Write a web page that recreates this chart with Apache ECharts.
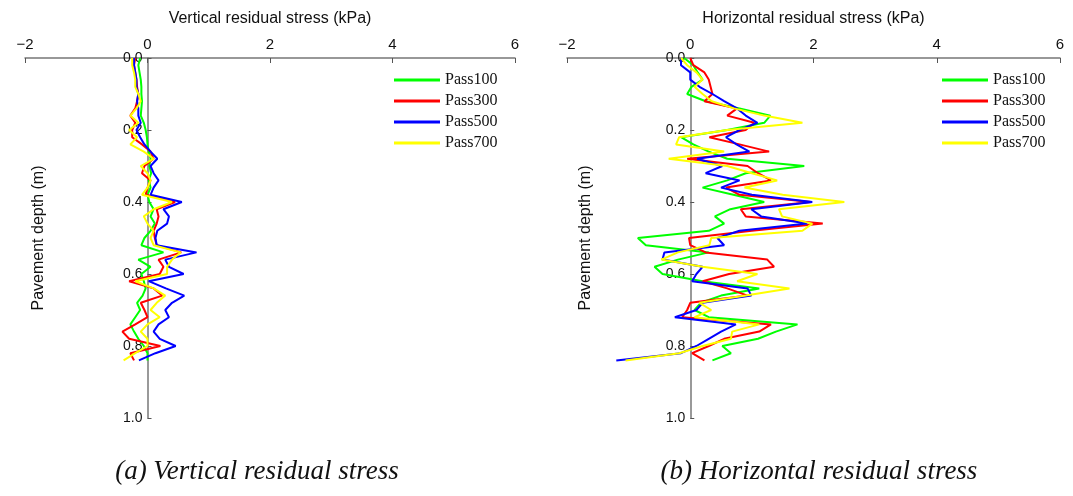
<!DOCTYPE html>
<html>
<head>
<meta charset="utf-8">
<script src="https://cdn.jsdelivr.net/npm/echarts@6/dist/echarts.min.js"></script>
<style>
  html, body { margin: 0; padding: 0; background: #fff; }
  #main { width: 1073px; height: 496px; }
</style>
</head>
<body>
<div id="main"></div>
<script>
// depth of each reading (m)
const depths = [0.00, 0.02, 0.04, 0.06, 0.08, 0.10, 0.12, 0.14, 0.16, 0.18, 0.20,
  0.22, 0.24, 0.26, 0.28, 0.30, 0.32, 0.34, 0.36, 0.38, 0.40,
  0.42, 0.44, 0.46, 0.48, 0.50, 0.52, 0.54, 0.56, 0.58, 0.60,
  0.62, 0.64, 0.66, 0.68, 0.70, 0.72, 0.74, 0.76, 0.78, 0.80, 0.82, 0.84];

const passNames = ['Pass100', 'Pass300', 'Pass500', 'Pass700'];
const passColors = ['#00ff00', '#ff0000', '#0000ff', '#ffff00'];

// vertical residual stress (kPa)
const vPass100 = [-0.12, -0.15, -0.13, -0.11, -0.1, -0.1, -0.09, -0.1, -0.11, -0.06, -0.03,
  -0.01, 0.0, 0.02, 0.05, 0.03, 0.06, 0.02, 0.05, 0.0, 0.03,
  0.1, 0.05, 0.12, 0.05, -0.05, -0.1, 0.26, -0.15, 0.05, -0.1,
  -0.06, -0.03, -0.08, -0.17, -0.12, -0.2, -0.28, -0.22, -0.15, -0.06, 0.0, 0.0];
const vPass300 = [-0.2, -0.22, -0.2, -0.18, -0.17, -0.15, -0.17, -0.2, -0.28, -0.2, -0.25,
  -0.25, -0.09, 0.05, 0.1, -0.05, -0.09, 0.05, 0.0, -0.03, 0.45,
  0.15, 0.18, 0.15, 0.1, 0.12, 0.15, 0.55, 0.18, 0.26, 0.2,
  -0.3, 0.1, 0.24, -0.11, -0.05, 0.0, -0.2, -0.41, -0.3, 0.21, -0.28, -0.22];
const vPass500 = [-0.22, -0.22, -0.2, -0.18, -0.18, -0.15, -0.17, -0.15, -0.15, -0.11, -0.18,
  -0.12, -0.05, 0.05, 0.16, 0.05, 0.1, 0.18, 0.1, 0.05, 0.56,
  0.26, 0.35, 0.32, 0.16, 0.13, 0.15, 0.8, 0.29, 0.35, 0.59,
  0.02, 0.3, 0.6, 0.4, 0.29, 0.35, 0.18, 0.1, 0.2, 0.46, 0.13, -0.14];
const vPass700 = [-0.25, -0.25, -0.22, -0.2, -0.2, -0.15, -0.11, -0.18, -0.28, -0.15, -0.3,
  -0.17, -0.28, -0.06, 0.1, -0.11, 0.0, 0.05, 0.0, -0.09, 0.4,
  0.1, -0.06, 0.0, 0.1, 0.05, 0.1, 0.54, 0.4, 0.32, 0.32,
  -0.2, 0.1, 0.29, 0.15, 0.05, 0.2, 0.0, -0.11, 0.0, 0.0, -0.2, -0.39];

// horizontal residual stress (kPa)
const hPass100 = [-0.1, 0.05, 0.12, 0.2, 0.02, -0.05, 0.25, 0.8, 1.3, 1.2, 0.6,
  -0.15, 0.05, 0.3, 0.6, 1.85, 0.9, 0.6, 0.2, 0.7, 1.2,
  0.65, 0.4, 0.55, 0.3, -0.85, -0.72, 0.3, -0.2, -0.58, -0.45,
  0.2, 1.12, 0.5, 0.17, 0.07, 0.3, 1.74, 1.39, 1.1, 0.52, 0.66, 0.36];
const hPass300 = [0.0, 0.05, 0.23, 0.3, 0.33, 0.36, 0.23, 0.76, 0.6, 1.04, 0.9,
  0.31, 0.8, 1.28, -0.05, 0.93, 1.1, 1.31, 0.58, 0.8, 1.96,
  0.82, 0.9, 2.15, 1.0, -0.02, 0.0, 0.25, 1.25, 1.36, 0.63,
  0.2, 0.6, 0.93, 0.0, -0.05, -0.13, 1.31, 1.12, 0.55, 0.3, 0.03, 0.23];
const hPass500 = [-0.15, -0.15, 0.0, 0.0, 0.15, 0.36, 0.55, 0.76, 0.9, 1.09, 0.8,
  0.58, 0.75, 0.96, 0.11, 0.52, 0.25, 0.8, 0.5, 1.0, 1.98,
  0.99, 1.15, 1.9, 0.8, 0.44, 0.55, -0.42, -0.45, 0.2, 0.1,
  0.03, 0.93, 0.99, 0.2, 0.1, -0.25, 0.74, 0.5, 0.3, 0.1, -0.15, -1.2];
const hPass700 = [-0.15, -0.05, 0.1, 0.2, 0.07, 0.2, 0.35, 0.71, 1.2, 1.82, 0.6,
  -0.18, -0.23, 0.55, -0.35, 0.6, 1.0, 1.41, 0.88, 1.5, 2.5,
  1.44, 1.49, 1.98, 1.82, 0.34, 0.31, -0.2, -0.47, 0.2, 1.09,
  0.76, 1.61, 0.9, 0.15, 0.34, 0.07, 1.12, 0.68, 0.66, 0.2, -0.18, -1.05];

const xTicks = { min: -2, max: 6, interval: 2 };
const yTicks = { min: 0, max: 1, interval: 0.2 };

const sansFont = 'Liberation Sans, Arial, sans-serif';
const serifFont = 'Liberation Serif, Times New Roman, serif';

function pairs(vals) {
  return vals.map((v, i) => [v, depths[i]]);
}

// main grids hold the data; the "axis" grids start at x = 0 so the
// depth axis, its labels and its name sit on the zero line
const plotBoxes = [
  { left: 25, width: 490 },
  { left: 567, width: 493 },
];
function zeroLeft(b) {
  return b.left + b.width * (0 - xTicks.min) / (xTicks.max - xTicks.min);
}

function xAxisOf(idx, name) {
  return {
    gridIndex: idx,
    type: 'value',
    position: 'top',
    min: xTicks.min,
    max: xTicks.max,
    interval: xTicks.interval,
    name: name,
    nameLocation: 'middle',
    nameGap: 31,
    nameTextStyle: { fontFamily: sansFont, fontSize: 16, color: '#111' },
    axisLine: { onZero: false, lineStyle: { color: '#777', width: 1.5 } },
    axisTick: { inside: true, length: 5, lineStyle: { color: '#555' } },
    axisLabel: {
      fontFamily: sansFont, fontSize: 15, color: '#111', margin: 6,
      formatter: v => (v < 0 ? '\u2212' + Math.abs(v) : String(v)),
    },
    splitLine: { show: false },
  };
}

function hiddenXAxis(idx) {
  return {
    gridIndex: idx, type: 'value', min: 0, max: 1, show: false,
  };
}

function dataYAxis(idx) {
  return {
    gridIndex: idx, type: 'value', inverse: true,
    min: yTicks.min, max: yTicks.max, interval: yTicks.interval, show: false,
  };
}

function labelYAxis(idx, gap) {
  return {
    gridIndex: idx,
    type: 'value',
    position: 'left',
    inverse: true,
    min: yTicks.min,
    max: yTicks.max,
    interval: yTicks.interval,
    name: 'Pavement depth (m)',
    nameLocation: 'middle',
    nameGap: gap,
    nameTextStyle: { fontFamily: sansFont, fontSize: 16, color: '#111' },
    axisLine: { onZero: false, lineStyle: { color: '#777', width: 1.5 } },
    axisTick: { inside: true, length: 4, lineStyle: { color: '#555' } },
    axisLabel: {
      fontFamily: sansFont, fontSize: 14, color: '#111', margin: 5,
      formatter: v => v.toFixed(1),
    },
    splitLine: { show: false },
  };
}

const vSets = [vPass100, vPass300, vPass500, vPass700];
const hSets = [hPass100, hPass300, hPass500, hPass700];

const series = [];
[vSets, hSets].forEach((sets, g) => {
  sets.forEach((vals, i) => {
    series.push({
      name: passNames[i], type: 'line', xAxisIndex: g, yAxisIndex: g,
      data: pairs(vals), showSymbol: false, symbol: 'none',
      lineStyle: { color: passColors[i], width: 2 }, itemStyle: { color: passColors[i] },
      animation: false,
    });
  });
});

function legendAt(left) {
  return {
    orient: 'vertical',
    left: left,
    top: 67,
    icon: 'rect',
    itemWidth: 46,
    itemHeight: 3,
    itemGap: 5,
    data: passNames,
    selectedMode: false,
    textStyle: { fontFamily: serifFont, fontSize: 16, color: '#111' },
  };
}

const grids = plotBoxes.map(b => ({
  left: b.left, top: 58, width: b.width, height: 360, outerBoundsMode: 'none', containLabel: false,
}));
plotBoxes.forEach(b => {
  const z = zeroLeft(b);
  grids.push({
    left: z, top: 58, width: b.left + b.width - z, height: 360, outerBoundsMode: 'none', containLabel: false,
  });
});

const chart = echarts.init(document.getElementById('main'));
chart.setOption({
  backgroundColor: '#fff',
  animation: false,
  title: [
    {
      text: '(a) Vertical residual stress', left: 252, top: 453, textAlign: 'center',
      textStyle: { fontFamily: serifFont, fontStyle: 'italic', fontWeight: 'normal', fontSize: 27, color: '#111' },
    },
    {
      text: '(b) Horizontal residual stress', left: 814, top: 453, textAlign: 'center',
      textStyle: { fontFamily: serifFont, fontStyle: 'italic', fontWeight: 'normal', fontSize: 27, color: '#111' },
    },
  ],
  legend: [legendAt(389), legendAt(937)],
  grid: grids,
  xAxis: [
    xAxisOf(0, 'Vertical residual stress (kPa)'),
    xAxisOf(1, 'Horizontal residual stress (kPa)'),
    hiddenXAxis(2),
    hiddenXAxis(3),
  ],
  yAxis: [dataYAxis(0), dataYAxis(1), labelYAxis(2, 101), labelYAxis(3, 97)],
  series: series,
});
</script>
</body>
</html>
